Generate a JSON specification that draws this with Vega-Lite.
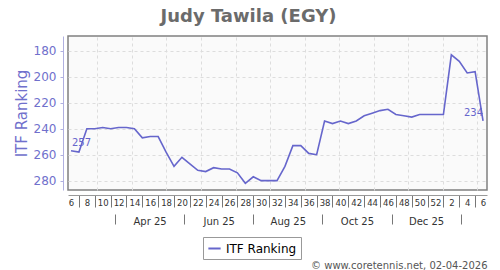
{
  "$schema": "https://vega.github.io/schema/vega-lite/v6.json",
  "width": 419,
  "height": 154,
  "autosize": {"type": "none"},
  "padding": {"left": 68, "top": 36, "right": 13, "bottom": 80},
  "background": "white",
  "title": {"text": "Judy Tawila (EGY)", "fontSize": 18, "font": "DejaVu Sans", "fontWeight": "bold", "color": "#6b6b6b", "anchor": "middle", "dx": -29, "offset": 10},
  "config": {"view": {"stroke": "#808080", "strokeWidth": 1.5, "fill": "#fafafa"}, "font": "DejaVu Sans"},
  "data": {"values": [
    {"idx": 0, "rank": 257, "series": "ITF Ranking"},
    {"idx": 1, "rank": 258, "series": "ITF Ranking"},
    {"idx": 2, "rank": 240, "series": "ITF Ranking"},
    {"idx": 3, "rank": 240, "series": "ITF Ranking"},
    {"idx": 4, "rank": 239, "series": "ITF Ranking"},
    {"idx": 5, "rank": 240, "series": "ITF Ranking"},
    {"idx": 6, "rank": 239, "series": "ITF Ranking"},
    {"idx": 7, "rank": 239, "series": "ITF Ranking"},
    {"idx": 8, "rank": 240, "series": "ITF Ranking"},
    {"idx": 9, "rank": 247, "series": "ITF Ranking"},
    {"idx": 10, "rank": 246, "series": "ITF Ranking"},
    {"idx": 11, "rank": 246, "series": "ITF Ranking"},
    {"idx": 12, "rank": 258, "series": "ITF Ranking"},
    {"idx": 13, "rank": 269, "series": "ITF Ranking"},
    {"idx": 14, "rank": 262, "series": "ITF Ranking"},
    {"idx": 15, "rank": 267, "series": "ITF Ranking"},
    {"idx": 16, "rank": 272, "series": "ITF Ranking"},
    {"idx": 17, "rank": 273, "series": "ITF Ranking"},
    {"idx": 18, "rank": 270, "series": "ITF Ranking"},
    {"idx": 19, "rank": 271, "series": "ITF Ranking"},
    {"idx": 20, "rank": 271, "series": "ITF Ranking"},
    {"idx": 21, "rank": 274, "series": "ITF Ranking"},
    {"idx": 22, "rank": 282, "series": "ITF Ranking"},
    {"idx": 23, "rank": 277, "series": "ITF Ranking"},
    {"idx": 24, "rank": 280, "series": "ITF Ranking"},
    {"idx": 25, "rank": 280, "series": "ITF Ranking"},
    {"idx": 26, "rank": 280, "series": "ITF Ranking"},
    {"idx": 27, "rank": 269, "series": "ITF Ranking"},
    {"idx": 28, "rank": 253, "series": "ITF Ranking"},
    {"idx": 29, "rank": 253, "series": "ITF Ranking"},
    {"idx": 30, "rank": 259, "series": "ITF Ranking"},
    {"idx": 31, "rank": 260, "series": "ITF Ranking"},
    {"idx": 32, "rank": 234, "series": "ITF Ranking"},
    {"idx": 33, "rank": 236, "series": "ITF Ranking"},
    {"idx": 34, "rank": 234, "series": "ITF Ranking"},
    {"idx": 35, "rank": 236, "series": "ITF Ranking"},
    {"idx": 36, "rank": 234, "series": "ITF Ranking"},
    {"idx": 37, "rank": 230, "series": "ITF Ranking"},
    {"idx": 38, "rank": 228, "series": "ITF Ranking"},
    {"idx": 39, "rank": 226, "series": "ITF Ranking"},
    {"idx": 40, "rank": 225, "series": "ITF Ranking"},
    {"idx": 41, "rank": 229, "series": "ITF Ranking"},
    {"idx": 42, "rank": 230, "series": "ITF Ranking"},
    {"idx": 43, "rank": 231, "series": "ITF Ranking"},
    {"idx": 44, "rank": 229, "series": "ITF Ranking"},
    {"idx": 45, "rank": 229, "series": "ITF Ranking"},
    {"idx": 46, "rank": 229, "series": "ITF Ranking"},
    {"idx": 47, "rank": 229, "series": "ITF Ranking"},
    {"idx": 48, "rank": 183, "series": "ITF Ranking"},
    {"idx": 49, "rank": 188, "series": "ITF Ranking"},
    {"idx": 50, "rank": 197, "series": "ITF Ranking"},
    {"idx": 51, "rank": 196, "series": "ITF Ranking"},
    {"idx": 52, "rank": 234, "series": "ITF Ranking"}
  ]},
  "layer": [
    {
      "mark": {"type": "point", "opacity": 0},
      "encoding": {
        "x": {"field": "idx", "type": "quantitative", "scale": {"domain": [-0.38, 52.5], "nice": false, "zero": false},
          "axis": {"orient": "bottom", "values": [3.32, 7.68, 12.04, 16.41, 20.77, 25.13, 29.49, 33.85, 38.22, 42.58, 46.94, 51.3], "grid": true, "gridDash": [3, 3], "gridColor": "#dddddd", "labels": false, "ticks": false, "domain": false, "title": null}},
        "y": {"field": "rank", "type": "quantitative", "scale": {"domain": [168.5, 287.2], "nice": false, "zero": false, "reverse": true}, "axis": null}
      }
    },
    {
      "mark": {"type": "point", "opacity": 0},
      "encoding": {
        "x": {"field": "idx", "type": "quantitative",
          "axis": {"orient": "bottom", "offset": 24, "values": [5.55, 9.91, 14.27, 18.64, 23.0, 27.36, 31.72, 36.08, 40.45, 44.81, 49.17],
            "labelExpr": "floor(datum.value) == 9 ? 'Apr 25' : floor(datum.value) == 18 ? 'Jun 25' : floor(datum.value) == 27 ? 'Aug 25' : floor(datum.value) == 36 ? 'Oct 25' : floor(datum.value) == 44 ? 'Dec 25' : ''",
            "domain": false, "grid": false, "tickSize": 10, "tickColor": "#777777",
            "tickOpacity": {"condition": {"test": "floor(datum.value) == 9 || floor(datum.value) == 18 || floor(datum.value) == 27 || floor(datum.value) == 36 || floor(datum.value) == 44", "value": 0}, "value": 1},
            "labelFontSize": 10, "labelColor": "#333333", "labelPadding": -8, "labelBaseline": "top", "labelOverlap": false, "labelFlush": false,
            "title": "© www.coretennis.net, 02-04-2026", "titleFontSize": 10, "titleFontWeight": "normal", "titleColor": "#555555", "titleAnchor": "end", "titleAlign": "right", "titleX": 419, "titleY": 54, "titleBaseline": "alphabetic"}},
        "y": {"field": "rank", "type": "quantitative", "axis": null}
      }
    },
    {
      "mark": {"type": "line", "strokeWidth": 1.6},
      "encoding": {
        "x": {"field": "idx", "type": "quantitative",
          "axis": {"orient": "bottom", "offset": 5, "values": [0,1,2,3,4,5,6,7,8,9,10,11,12,13,14,15,16,17,18,19,20,21,22,23,24,25,26,27,28,29,30,31,32,33,34,35,36,37,38,39,40,41,42,43,44,45,46,47,48,49,50,51,52],
            "labelExpr": "datum.value % 2 == 0 ? '' + (datum.value + 6 > 52 ? datum.value - 46 : datum.value + 6) : ''",
            "grid": false, "domainColor": "#999999", "tickColor": "#777777", "tickSize": 12,
            "tickOpacity": {"condition": {"test": "datum.value % 2 == 1", "value": 1}, "value": 0},
            "labelFontSize": 8.5, "labelColor": "#333333", "labelPadding": -9, "labelBaseline": "top", "labelOverlap": false, "labelFlush": false, "title": null}},
        "y": {"field": "rank", "type": "quantitative",
          "axis": {"orient": "left", "offset": 5, "values": [180, 200, 220, 240, 260, 280], "grid": true, "gridDash": [3, 3], "gridColor": "#dddddd", "domainColor": "#b0b0e0", "tickColor": "#b0b0e0", "tickSize": 3, "labelPadding": 4, "labelFontSize": 12, "labelColor": "#7070cc", "title": "ITF Ranking", "titleFontSize": 15, "titleFontWeight": "normal", "titleColor": "#7070cc", "titlePadding": 4}},
        "color": {"field": "series", "type": "nominal", "scale": {"range": ["#6666cc"]},
          "legend": {"orient": "none", "legendX": 135, "legendY": 201, "title": null, "strokeColor": "#999999", "padding": 4, "symbolType": "stroke", "symbolSize": 150, "symbolStrokeWidth": 2, "labelFontSize": 12, "labelColor": "#000000", "labelFont": "DejaVu Sans"}}
      }
    },
    {
      "transform": [{"filter": "datum.idx == 0"}],
      "mark": {"type": "text", "align": "left", "baseline": "alphabetic", "dx": 1, "dy": -5, "fontSize": 10, "color": "#6666cc"},
      "encoding": {
        "x": {"field": "idx", "type": "quantitative", "axis": null},
        "y": {"field": "rank", "type": "quantitative", "axis": null},
        "text": {"field": "rank", "type": "quantitative"}
      }
    },
    {
      "transform": [{"filter": "datum.idx == 52"}],
      "mark": {"type": "text", "align": "right", "baseline": "alphabetic", "dx": 0, "dy": -5, "fontSize": 10, "color": "#6666cc"},
      "encoding": {
        "x": {"field": "idx", "type": "quantitative", "axis": null},
        "y": {"field": "rank", "type": "quantitative", "axis": null},
        "text": {"field": "rank", "type": "quantitative"}
      }
    }
  ],
  "resolve": {"axis": {"x": "independent", "y": "independent"}}
}
